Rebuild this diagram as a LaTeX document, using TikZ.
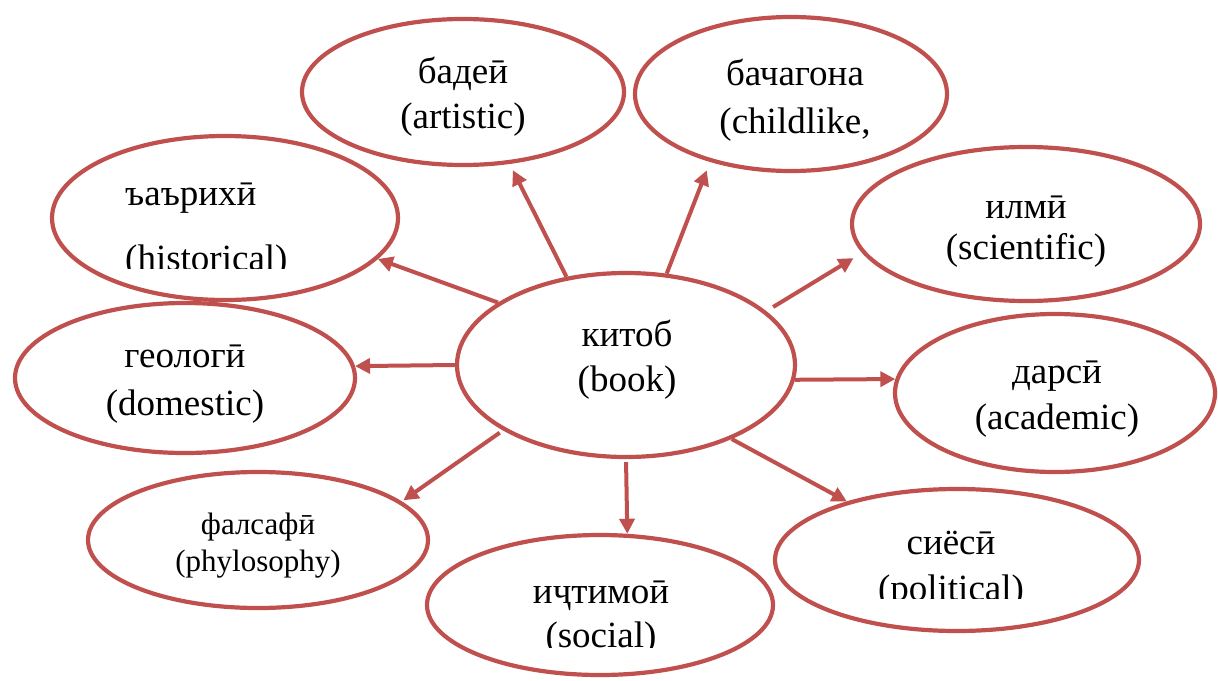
\documentclass[tikz,border=0pt]{standalone}
\usepackage{fontspec}
\setmainfont{Liberation Serif}
\usetikzlibrary{shapes.geometric,arrows.meta}
\definecolor{rimc}{HTML}{C0504D}

\begin{document}
\begin{tikzpicture}[x=1pt, y=-1pt,
  bubble/.style={ellipse, draw=rimc, line width=4.2pt, inner sep=0pt},
  word/.style={align=center, inner sep=0pt, font=\fontsize{37}{45}\selectfont},
  link/.style={rimc, line width=4pt, -{Triangle[length=15pt, width=15pt]}}]
  \useasboundingbox (0,0) rectangle (1218,680);

  % ellipses
  \node[bubble, minimum width=338pt, minimum height=184pt] (book) at (626,365) {};
  \node[bubble, minimum width=322pt, minimum height=146pt] (artistic) at (463,92) {};
  \node[bubble, minimum width=312pt, minimum height=154pt] (childlike) at (791,94) {};
  \node[bubble, minimum width=346pt, minimum height=164pt] (historical) at (225,218) {};
  \node[bubble, minimum width=348pt, minimum height=154pt] (scientific) at (1026,224) {};
  \node[bubble, minimum width=340pt, minimum height=150pt] (domestic) at (185,378) {};
  \node[bubble, minimum width=320pt, minimum height=158pt] (academic) at (1055,393) {};
  \node[bubble, minimum width=340pt, minimum height=136pt] (phil) at (258,540) {};
  \node[bubble, minimum width=346pt, minimum height=140pt] (social) at (600,605) {};
  \node[bubble, minimum width=364pt, minimum height=142pt] (political) at (957,560) {};

  % arrows out of the centre
  \draw[link, shorten >=7pt] (book.124) -- (artistic.-57);
  \draw[link, shorten >=9pt] (book.66) -- (childlike.-140);
  \draw[link] (book.154) -- (historical.-15);
  \draw[link, shorten <=8pt, shorten >=10pt] (book.21) -- (scientific.190);
  \draw[link] (book.180) -- (domestic.4);
  \draw[link] (book.-5) -- (academic.175);
  \draw[link, shorten <=4pt, shorten >=2pt] (book.208) -- (phil.15);
  \draw[link, shorten <=3pt] (book.270) -- (social.69);
  \draw[link] (book.-35) -- (political.152);

  % labels
  \node[word] (book-t) at (627,360) {китоб\\(book)};
  \node[word] (artistic-t) at (463,97) {бадеӣ\\(artistic)};
  \node[word] (childlike-t) at (795,100) {бачагона\\[3pt](childlike,};
  \node[word] (scientific-t) at (1026,232) {илмӣ\\[-4pt](scientific)};
  \node[word] (domestic-t) at (185,384) {геологӣ\\[3pt](domestic)};
  \node[word] (academic-t) at (1057,399) {дарсӣ\\[1pt](academic)};
  \node[word, font=\fontsize{31}{35}\selectfont] (phil-t) at (258,546) {фалсафӣ\\[2pt](phylosophy)};
  % labels cut off at the bottom
  \begin{scope}
    \clip (100,150) rectangle (330,268);
    \node[word, align=left, anchor=west] (historical-t) at (125,231) {ъаърихӣ\\[20pt](historical)};
  \end{scope}
  \begin{scope}
    \clip (500,560) rectangle (700,647);
    \node[word] (social-t) at (601,618) {иҷтимоӣ\\[-1pt](social)};
  \end{scope}
  \begin{scope}
    \clip (850,500) rectangle (1060,598);
    \node[word] (political-t) at (951,570) {сиёсӣ\\[1pt](political)};
  \end{scope}
\end{tikzpicture}
\end{document}
